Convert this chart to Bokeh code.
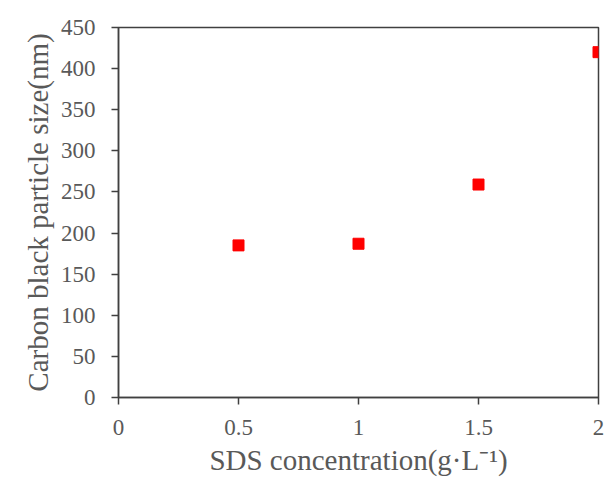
from bokeh.plotting import figure
from bokeh.embed import file_html
from bokeh.resources import INLINE
from bokeh.models import Range1d, FixedTicker

sds_conc = [0.5, 1.0, 1.5, 2.0]
particle_size = [185, 187, 259, 420]
x_ticks = [0, 0.5, 1, 1.5, 2]
y_ticks = [0, 50, 100, 150, 200, 250, 300, 350, 400, 450]
x_min, x_max = 0, 2
y_min, y_max = 0, 450

p = figure(width=604, height=479, output_backend="svg", toolbar_location=None,
           x_range=Range1d(x_min, x_max), y_range=Range1d(y_min, y_max),
           min_border_left=118, min_border_right=6, min_border_top=27, min_border_bottom=82)

p.scatter(sds_conc, particle_size, marker="square", size=11, fill_color="#ff0000", line_color="#ff0000")

p.grid.visible = False
p.outline_line_color = "#404040"
p.outline_line_width = 1.5

font = "Liberation Serif"
for ax in (p.xaxis[0], p.yaxis[0]):
    ax.axis_line_color = "#404040"
    ax.axis_line_width = 1.5
    ax.major_tick_line_color = "#404040"
    ax.major_tick_line_width = 1.5
    ax.major_tick_out = 7
    ax.major_tick_in = 0
    ax.minor_tick_line_color = None
    ax.major_label_text_font = font
    ax.major_label_text_font_size = "23px"
    ax.major_label_text_color = "#595959"
    ax.axis_label_text_font = font
    ax.axis_label_text_font_size = "29px"
    ax.axis_label_text_color = "#595959"
    ax.axis_label_text_font_style = "normal"

p.xaxis.ticker = FixedTicker(ticks=x_ticks)
p.yaxis.ticker = FixedTicker(ticks=y_ticks)
p.xaxis.major_label_overrides = {0: "0", 0.5: "0.5", 1: "1", 1.5: "1.5", 2: "2"}
p.xaxis.major_label_standoff = 15
p.yaxis.major_label_standoff = 16
p.xaxis.axis_label = "SDS concentration(g·L⁻¹)"
p.yaxis.axis_label = "Carbon black particle size(nm)"
p.xaxis.axis_label_standoff = 6
p.yaxis.axis_label_standoff = 4

open("out.html", "w").write(file_html(p, INLINE))
